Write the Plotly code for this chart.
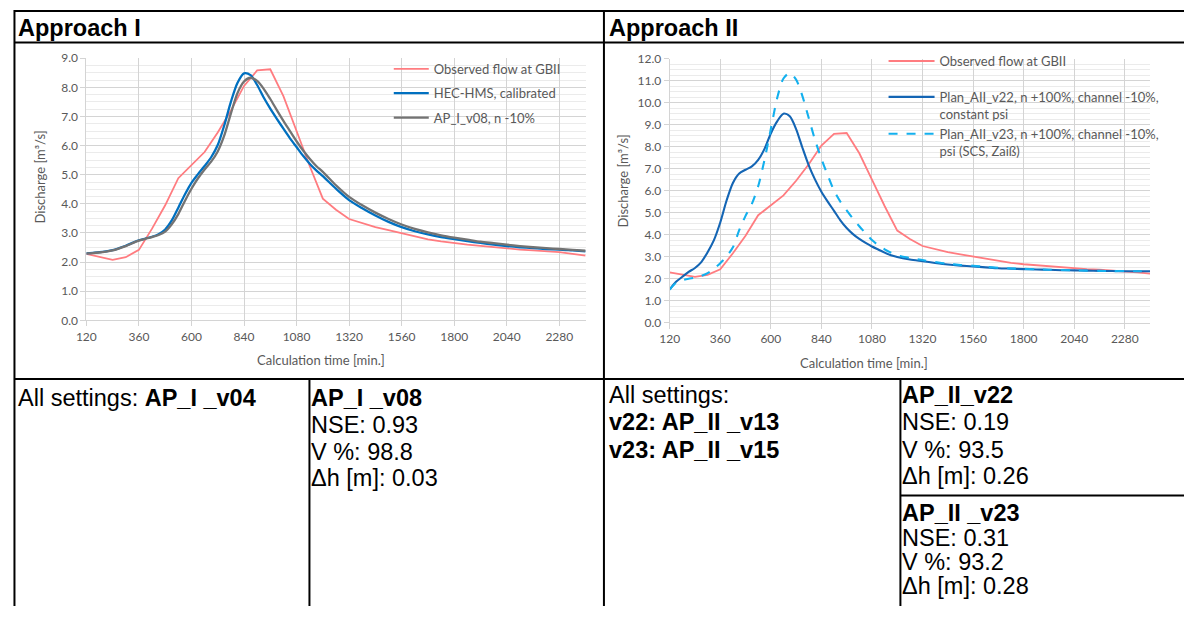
import plotly.graph_objects as go

# The page body keeps the browser's default 8 px margin, so the figure is made
# 16 px smaller and every reference pixel position is shifted by that margin.
OX, OY = 8, 8
W, H = 1184, 606

# ---------------- data ----------------
t_obs = [120, 180, 240, 300, 360, 420, 480, 540, 600, 660, 720, 780, 840, 900, 960, 1020,
         1080, 1140, 1200, 1260, 1320, 1380, 1440, 1500, 1560, 1620, 1680, 1740, 1800,
         1860, 1920, 1980, 2040, 2100, 2160, 2220, 2280, 2340, 2400]
q_obs = [2.28, 2.18, 2.08, 2.17, 2.42, 3.15, 3.95, 4.88, 5.33, 5.78, 6.45, 7.2, 8.05, 8.58,
         8.62, 7.7, 6.5, 5.3, 4.18, 3.8, 3.48, 3.33, 3.2, 3.1, 3.0, 2.88, 2.78, 2.71, 2.65,
         2.6, 2.56, 2.51, 2.47, 2.43, 2.4, 2.37, 2.34, 2.28, 2.22]

t_sim = [120, 150, 180, 210, 240, 270, 300, 330, 360, 390, 420, 450, 480, 510, 540, 570,
         600, 630, 660, 690, 720, 750, 780, 810, 840, 870, 900, 930, 960, 990, 1020, 1050,
         1080, 1110, 1140, 1170, 1200, 1260, 1320, 1380, 1440, 1500, 1560, 1620, 1680,
         1740, 1800, 1860, 1920, 1980, 2040, 2100, 2160, 2220, 2280, 2340, 2400]
q_hec = [2.3, 2.32, 2.34, 2.37, 2.41, 2.48, 2.56, 2.66, 2.75, 2.81, 2.87, 2.96, 3.12, 3.43,
         3.87, 4.32, 4.72, 5.02, 5.3, 5.6, 6.02, 6.7, 7.5, 8.15, 8.48, 8.42, 8.08, 7.65, 7.27,
         6.92, 6.58, 6.25, 5.95, 5.65, 5.38, 5.15, 4.95, 4.52, 4.13, 3.85, 3.6, 3.38, 3.2,
         3.06, 2.95, 2.86, 2.79, 2.72, 2.66, 2.6, 2.55, 2.51, 2.48, 2.45, 2.43, 2.4, 2.37]
q_v08 = [2.3, 2.31, 2.33, 2.36, 2.4, 2.47, 2.55, 2.65, 2.74, 2.8, 2.86, 2.93, 3.05, 3.3,
         3.65, 4.1, 4.52, 4.88, 5.18, 5.45, 5.8, 6.35, 7.1, 7.8, 8.2, 8.33, 8.22, 7.95, 7.6,
         7.22, 6.85, 6.5, 6.15, 5.83, 5.55, 5.3, 5.1, 4.64, 4.24, 3.95, 3.7, 3.48, 3.29,
         3.14, 3.02, 2.92, 2.84, 2.77, 2.7, 2.65, 2.6, 2.55, 2.51, 2.48, 2.45, 2.42, 2.39]
q_v22 = [1.5, 1.85, 2.08, 2.3, 2.48, 2.75, 3.2, 3.75, 4.55, 5.55, 6.35, 6.78, 6.95, 7.1,
         7.4, 7.9, 8.6, 9.15, 9.5, 9.38, 8.8, 7.95, 7.15, 6.5, 5.95, 5.5, 5.08, 4.65, 4.3,
         4.02, 3.8, 3.62, 3.46, 3.32, 3.18, 3.06, 2.98, 2.87, 2.79, 2.71, 2.64, 2.59, 2.55,
         2.51, 2.47, 2.45, 2.43, 2.41, 2.4, 2.38, 2.37, 2.36, 2.35, 2.34, 2.33, 2.33, 2.33]
q_v23 = [1.5, 1.8, 1.92, 1.99, 2.04, 2.12, 2.25, 2.45, 2.7, 3.0, 3.42, 4.2, 4.85, 5.4,
         6.2, 7.4, 8.8, 10.2, 11.1, 11.35, 11.05, 10.3, 9.3, 8.3, 7.45, 6.7, 6.0, 5.5, 5.1,
         4.72, 4.38, 4.06, 3.75, 3.52, 3.33, 3.18, 3.06, 2.94, 2.84, 2.75, 2.67, 2.62, 2.58,
         2.53, 2.49, 2.46, 2.44, 2.42, 2.4, 2.39, 2.37, 2.36, 2.35, 2.34, 2.34, 2.33, 2.33]

x_ticks = [120, 360, 600, 840, 1080, 1320, 1560, 1800, 2040, 2280]

name_obs = "Observed flow at GBII"
name_hec = "HEC-HMS, calibrated"
name_v08 = "AP_I_v08, n -10%"
name_v22 = "Plan_AII_v22, n +100%, channel -10%,<br>constant psi"
name_v23 = "Plan_AII_v23, n +100%, channel -10%,<br>psi (SCS, Zaiß)"

# ---------------- styles ----------------
RED = "#FF7C80"
BLUE = "#0070C0"
GRAY = "#737373"
DBLUE = "#1465B4"
LBLUE = "#13B0EE"
TXT = "#595959"
CHART_FONT = "Lato, Open Sans, sans-serif"
TABLE_FONT = "Arial, Liberation Sans, sans-serif"


def px(x):
    return (x - OX) / W


def py(y):
    return 1 - (y - OY) / H


fig = go.Figure()

# left chart
fig.add_trace(go.Scatter(x=t_obs, y=q_obs, mode="lines", name=name_obs,
                         line=dict(color=RED, width=1.8), xaxis="x", yaxis="y",
                         legend="legend", legendgroup="a1"))
fig.add_trace(go.Scatter(x=t_sim, y=q_hec, mode="lines", name=name_hec,
                         line=dict(color=BLUE, width=2.3, shape="spline", smoothing=0.8),
                         xaxis="x", yaxis="y", legend="legend", legendgroup="a2"))
fig.add_trace(go.Scatter(x=t_sim, y=q_v08, mode="lines", name=name_v08,
                         line=dict(color=GRAY, width=2.3, shape="spline", smoothing=0.8),
                         xaxis="x", yaxis="y", legend="legend", legendgroup="a3"))
# right chart
fig.add_trace(go.Scatter(x=t_obs, y=q_obs, mode="lines", name=name_obs,
                         line=dict(color=RED, width=1.8), xaxis="x2", yaxis="y2",
                         legend="legend2", legendgroup="b1"))
fig.add_trace(go.Scatter(x=t_sim, y=q_v22, mode="lines", name=name_v22,
                         line=dict(color=DBLUE, width=2.1, shape="spline", smoothing=0.8),
                         xaxis="x2", yaxis="y2", legend="legend2", legendgroup="b2"))
fig.add_trace(go.Scatter(x=t_sim, y=q_v23, mode="lines", name=name_v23,
                         line=dict(color=LBLUE, width=2.1, dash="dash", shape="spline",
                                   smoothing=0.8),
                         xaxis="x2", yaxis="y2", legend="legend2", legendgroup="b2"))

GRID = "#d4d4d4"
MINOR = "#ebebeb"


def xaxis_cfg(domain, anchor):
    return dict(domain=domain, anchor=anchor, range=[120, 2400], tickmode="array",
                tickvals=x_ticks, ticktext=[str(v) for v in x_ticks],
                showgrid=True, gridcolor=GRID, gridwidth=1,
                ticks="outside", ticklen=5, tickcolor=GRID,
                showline=True, linecolor=GRID, linewidth=1, zeroline=False,
                tickfont=dict(family=CHART_FONT, size=12, color=TXT), fixedrange=True)


def yaxis_cfg(domain, anchor, ymax):
    return dict(domain=domain, anchor=anchor, range=[0, ymax], dtick=1.0, tick0=0,
                tickformat=".1f", showgrid=True, gridcolor=GRID, gridwidth=1,
                minor=dict(dtick=0.25, showgrid=True, gridcolor=MINOR, gridwidth=1),
                ticks="outside", ticklen=5, tickcolor=GRID,
                showline=True, linecolor=GRID, linewidth=1, zeroline=False,
                tickfont=dict(family=CHART_FONT, size=12, color=TXT), fixedrange=True)


shapes = []


def hline(y, x0, x1, w=2):
    shapes.append(dict(type="line", xref="paper", yref="paper", x0=px(x0), x1=px(x1),
                       y0=py(y), y1=py(y), line=dict(color="black", width=w)))


def vline(x, y0, y1, w=2):
    shapes.append(dict(type="line", xref="paper", yref="paper", x0=px(x), x1=px(x),
                       y0=py(y0), y1=py(y1), line=dict(color="black", width=w)))


def white_box(x0, y0, x1, y1):
    shapes.append(dict(type="rect", xref="paper", yref="paper", x0=px(x0), x1=px(x1),
                       y0=py(y1), y1=py(y0), fillcolor="white", line=dict(width=0),
                       layer="between"))


# legend background boxes (hide gridlines behind the legends)
white_box(375, 52, 592, 133)
white_box(878, 52, 1162, 163)

hline(11, 12, 1200)
hline(43.5, 12, 1200)
hline(388.5, 12, 1200)
hline(508, 906, 1200)
vline(12.5, 10, 622)
vline(607, 10, 622)
vline(310, 388.5, 622)
vline(906, 388.5, 622)

ann = []


def text(x, y, s, size=23.5, bold=False, family=TABLE_FONT, color="black", angle=0,
         xanchor="left"):
    if bold:
        s = "<b>" + s + "</b>"
    ann.append(dict(x=px(x), y=py(y), xref="paper", yref="paper", text=s, showarrow=False,
                    xanchor=xanchor, yanchor="middle", textangle=angle,
                    font=dict(family=family, size=size, color=color)))


text(14, 28, "Approach I", bold=True)
text(610, 28, "Approach II", bold=True)

# axis titles
text(38, 181, "Discharge [m³/s]", size=13, family=CHART_FONT, color=TXT, angle=-90,
     xanchor="center")
text(626, 185, "Discharge [m³/s]", size=13, family=CHART_FONT, color=TXT, angle=-90,
     xanchor="center")
text(322, 369, "Calculation time [min.]", size=13, family=CHART_FONT, color=TXT,
     xanchor="center")
text(869, 372, "Calculation time [min.]", size=13, family=CHART_FONT, color=TXT,
     xanchor="center")

# bottom table texts
text(14, 408, "All settings: <b>AP_I _v04</b>")
text(310, 408, "AP_I _v08", bold=True)
text(310, 436, "NSE: 0.93")
text(310, 463, "V %: 98.8")
text(310, 490, "Δh [m]: 0.03")

text(610, 405, "All settings:")
text(610, 433, "v22: AP_II _v13", bold=True)
text(610, 461, "v23: AP_II _v15", bold=True)

text(906, 405, "AP_II_v22", bold=True)
text(906, 433, "NSE: 0.19")
text(906, 461, "V %: 93.5")
text(906, 488, "Δh [m]: 0.26")
text(906, 526, "AP_II _v23", bold=True)
text(906, 551, "NSE: 0.31")
text(906, 576, "V %: 93.2")
text(906, 601, "Δh [m]: 0.28")

LEG_FONT = dict(family=CHART_FONT, size=13, color=TXT)

fig.update_layout(
    width=W, height=H,
    margin=dict(l=0, r=0, t=0, b=0),
    paper_bgcolor="white", plot_bgcolor="white",
    xaxis=xaxis_cfg([px(85), px(588.5)], "y"),
    yaxis=yaxis_cfg([py(328.3), py(59.5)], "x", 9),
    xaxis2=xaxis_cfg([px(673.3), px(1157.8)], "y2"),
    yaxis2=yaxis_cfg([py(330.5), py(60)], "x2", 12),
    legend=dict(x=px(390), y=py(55), xanchor="left", yanchor="top", bgcolor="rgba(0,0,0,0)",
                borderwidth=0, font=LEG_FONT, traceorder="grouped", tracegroupgap=4.5,
                itemwidth=35, itemclick=False, itemdoubleclick=False),
    legend2=dict(x=px(889), y=py(47), xanchor="left", yanchor="top",
                 bgcolor="rgba(0,0,0,0)", borderwidth=0, font=LEG_FONT,
                 traceorder="grouped", tracegroupgap=16, itemwidth=46,
                 valign="top", itemclick=False, itemdoubleclick=False),
    shapes=shapes,
    annotations=ann,
    showlegend=True,
)

fig.write_html("out.html", config=dict(displayModeBar=False, staticPlot=True))
